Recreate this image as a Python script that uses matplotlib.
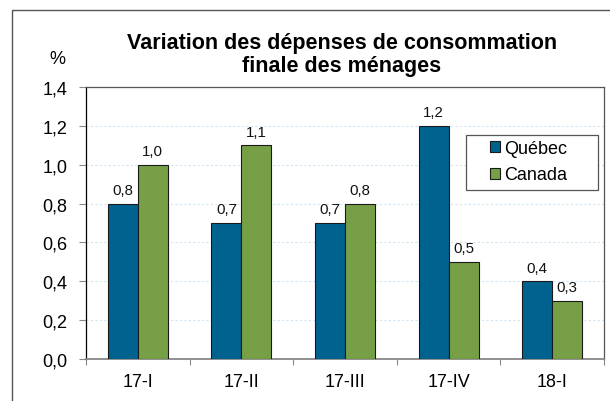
import matplotlib
matplotlib.use("Agg")
import matplotlib.pyplot as plt
import numpy as np
from matplotlib.patches import Rectangle

categories = ["17-I", "17-II", "17-III", "17-IV", "18-I"]
quebec = [0.8, 0.7, 0.7, 1.2, 0.4]
canada = [1.0, 1.1, 0.8, 0.5, 0.3]
series_names = ["Québec", "Canada"]
yticks = [0.0, 0.2, 0.4, 0.6, 0.8, 1.0, 1.2, 1.4]

plt.rcParams['font.family'] = ['Liberation Sans', 'DejaVu Sans']

W, H = 610, 402
def fx(px):
    return px / W
def fy(py):
    return 1 - py / H

fig = plt.figure(figsize=(W/100, H/100), dpi=100)
L, R, T, B = 86, 604, 88, 360
ax = fig.add_axes([fx(L), fy(B), (R-L)/W, (B-T)/H])

# outer frame (extends past the right and bottom edges)
fig.patches.append(Rectangle((fx(12), fy(430)), (640-12)/W, (430-11)/H, transform=fig.transFigure,
                             fill=False, edgecolor='#555555', linewidth=1.0))

x = np.arange(len(categories))
bw = 0.289
c_q = '#00638F'
c_c = '#77A046'
b1 = ax.bar(x - bw/2, quebec, bw, color=c_q, edgecolor='#1a1a1a', linewidth=0.8, label=series_names[0], zorder=3)
b2 = ax.bar(x + bw/2, canada, bw, color=c_c, edgecolor='#1a1a1a', linewidth=0.8, label=series_names[1], zorder=3)

def fmt(v):
    return f"{v:.1f}".replace('.', ',')

for bars, vals in ((b1, quebec), (b2, canada)):
    for r, v in zip(bars, vals):
        ax.annotate(fmt(v), (r.get_x() + r.get_width()/2, v), xytext=(0, 15),
                    textcoords='offset pixels', ha='center', va='center_baseline',
                    fontsize=10.8, color='#111111')

ax.set_xlim(-0.5, len(categories) - 0.5)
ax.set_ylim(0, 1.4)
ax.set_yticks(yticks)
ax.set_yticklabels([fmt(t) for t in yticks], fontsize=13)
ax.set_xticks(x)
ax.set_xticklabels(categories, fontsize=13)
ax.tick_params(axis='x', length=0, pad=10)
ax.tick_params(axis='y', length=5, direction='out', width=0.8, pad=8.5, color='#888888')
ax.set_xticks(np.arange(len(categories) + 1) - 0.5, minor=True)
ax.tick_params(axis='x', which='minor', length=4, width=0.8, color='#888888', direction='out')

ax.grid(axis='y', color='#D3E4F2', linestyle=(0, (2, 2)), linewidth=0.8, zorder=0)
for s in ['top', 'right']:
    ax.spines[s].set_color('#555555')
    ax.spines[s].set_linewidth(0.9)
ax.spines['bottom'].set_color('#888888')
ax.spines['bottom'].set_linewidth(1.3)
ax.spines['left'].set_color('#000000')
ax.spines['left'].set_linewidth(0.9)

# legend (frameless) plus an Excel-like box with wide padding
leg = fig.legend(handles=[b1, b2], labels=series_names, loc='upper left',
                 bbox_to_anchor=(fx(490), fy(141)), bbox_transform=fig.transFigure,
                 fontsize=13, frameon=False, handlelength=0.56, handleheight=0.56,
                 handletextpad=0.2, borderpad=0.0, labelspacing=0.52, borderaxespad=0.0)
fig.patches.append(Rectangle((fx(466), fy(191)), (598-466)/W, (191-136)/H, transform=fig.transFigure,
                             facecolor='white', edgecolor='#555555', linewidth=0.9, zorder=2.5))
leg.set_zorder(5)

fig.text(fx(342), fy(55), "Variation des dépenses de consommation\nfinale des ménages",
         ha='center', va='center', fontsize=15.5, fontweight='bold', linespacing=1.08)
fig.text(fx(57), fy(60), "%", ha='center', va='center', fontsize=13)

fig.savefig("out.png", dpi=100)
